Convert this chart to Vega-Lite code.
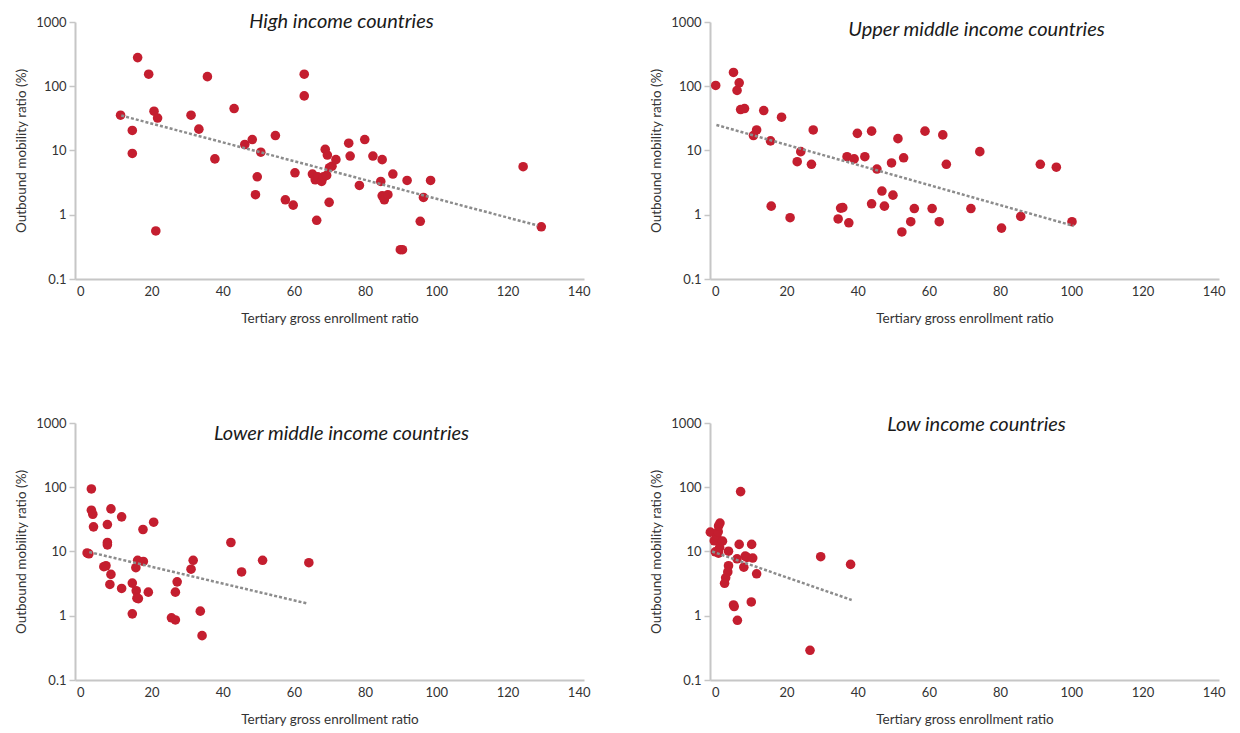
{
  "$schema": "https://vega.github.io/schema/vega-lite/v6.json",
  "background": "white",
  "padding": {"left": 14, "top": 12, "right": 5, "bottom": 5},
  "columns": 2,
  "spacing": {"row": 90, "column": 59},
  "datasets": {
    "pts": [
      {"g":"High","x":11.3,"y":35.4},{"g":"High","x":16.1,"y":279},{"g":"High","x":19.2,"y":154},{"g":"High","x":14.6,"y":20.5},{"g":"High","x":14.6,"y":9.0},{"g":"High","x":20.7,"y":40.9},{"g":"High","x":21.7,"y":32},{"g":"High","x":21.2,"y":0.56},{"g":"High","x":31.1,"y":35.4},{"g":"High","x":33.3,"y":21.5},{"g":"High","x":35.7,"y":141},{"g":"High","x":37.8,"y":7.4},{"g":"High","x":43.2,"y":45},{"g":"High","x":46.2,"y":12.4},{"g":"High","x":48.3,"y":14.8},{"g":"High","x":50.7,"y":9.4},{"g":"High","x":49.7,"y":3.9},{"g":"High","x":49.2,"y":2.05},{"g":"High","x":54.8,"y":17.1},{"g":"High","x":57.6,"y":1.71},{"g":"High","x":59.8,"y":1.41},{"g":"High","x":60.3,"y":4.5},{"g":"High","x":62.9,"y":154},{"g":"High","x":62.9,"y":70.8},{"g":"High","x":65.2,"y":4.3},{"g":"High","x":66,"y":3.5},{"g":"High","x":66.7,"y":3.9},{"g":"High","x":66.4,"y":0.82},{"g":"High","x":67.8,"y":3.3},{"g":"High","x":68.3,"y":3.9},{"g":"High","x":68.8,"y":10.4},{"g":"High","x":69.4,"y":8.5},{"g":"High","x":69.2,"y":4.1},{"g":"High","x":69.9,"y":1.56},{"g":"High","x":70,"y":5.4},{"g":"High","x":70.7,"y":5.7},{"g":"High","x":71.8,"y":7.2},{"g":"High","x":75.4,"y":13},{"g":"High","x":75.8,"y":8.2},{"g":"High","x":78.4,"y":2.86},{"g":"High","x":79.9,"y":14.8},{"g":"High","x":82.2,"y":8.2},{"g":"High","x":84.8,"y":7.2},{"g":"High","x":84.4,"y":3.3},{"g":"High","x":84.8,"y":1.97},{"g":"High","x":85.4,"y":1.71},{"g":"High","x":86.4,"y":2.05},{"g":"High","x":87.8,"y":4.3},{"g":"High","x":89.9,"y":0.286},{"g":"High","x":90.5,"y":0.286},{"g":"High","x":91.8,"y":3.42},{"g":"High","x":95.5,"y":0.79},{"g":"High","x":96.4,"y":1.86},{"g":"High","x":98.4,"y":3.42},{"g":"High","x":124.4,"y":5.6},{"g":"High","x":129.5,"y":0.65},
      {"g":"Upper","x":0.1,"y":103},{"g":"Upper","x":5.1,"y":164},{"g":"Upper","x":6.7,"y":113},{"g":"Upper","x":6.1,"y":86},{"g":"Upper","x":7.1,"y":43.4},{"g":"Upper","x":8.2,"y":45},{"g":"Upper","x":13.6,"y":41.9},{"g":"Upper","x":18.6,"y":33},{"g":"Upper","x":11.6,"y":20.9},{"g":"Upper","x":10.7,"y":17.1},{"g":"Upper","x":15.5,"y":14.1},{"g":"Upper","x":27.5,"y":20.9},{"g":"Upper","x":24,"y":9.6},{"g":"Upper","x":23,"y":6.7},{"g":"Upper","x":27,"y":6.1},{"g":"Upper","x":15.7,"y":1.36},{"g":"Upper","x":21,"y":0.9},{"g":"Upper","x":34.5,"y":0.86},{"g":"Upper","x":35.2,"y":1.27},{"g":"Upper","x":35.8,"y":1.29},{"g":"Upper","x":37.5,"y":0.75},{"g":"Upper","x":37,"y":8.0},{"g":"Upper","x":39,"y":7.4},{"g":"Upper","x":39.9,"y":18.5},{"g":"Upper","x":42,"y":8.0},{"g":"Upper","x":43.9,"y":20},{"g":"Upper","x":43.9,"y":1.48},{"g":"Upper","x":45.4,"y":5.15},{"g":"Upper","x":46.8,"y":2.34},{"g":"Upper","x":47.5,"y":1.36},{"g":"Upper","x":49.5,"y":6.4},{"g":"Upper","x":49.9,"y":2.02},{"g":"Upper","x":51.3,"y":15.3},{"g":"Upper","x":52.9,"y":7.7},{"g":"Upper","x":52.4,"y":0.54},{"g":"Upper","x":54.9,"y":0.78},{"g":"Upper","x":55.9,"y":1.25},{"g":"Upper","x":58.9,"y":20},{"g":"Upper","x":60.9,"y":1.25},{"g":"Upper","x":62.9,"y":0.78},{"g":"Upper","x":63.9,"y":17.5},{"g":"Upper","x":64.9,"y":6.1},{"g":"Upper","x":71.8,"y":1.25},{"g":"Upper","x":74.3,"y":9.6},{"g":"Upper","x":80.4,"y":0.62},{"g":"Upper","x":85.8,"y":0.94},{"g":"Upper","x":91.3,"y":6.1},{"g":"Upper","x":95.8,"y":5.5},{"g":"Upper","x":100.2,"y":0.78},
      {"g":"Lower","x":1.9,"y":9.5},{"g":"Lower","x":2.4,"y":9.2},{"g":"Lower","x":3.1,"y":94},{"g":"Lower","x":3.1,"y":43.9},{"g":"Lower","x":3.5,"y":38},{"g":"Lower","x":3.7,"y":24.2},{"g":"Lower","x":7.6,"y":26.3},{"g":"Lower","x":8.6,"y":46},{"g":"Lower","x":11.6,"y":34.6},{"g":"Lower","x":7.6,"y":13.8},{"g":"Lower","x":7.6,"y":12.7},{"g":"Lower","x":6.6,"y":5.8},{"g":"Lower","x":7.2,"y":6.0},{"g":"Lower","x":8.6,"y":4.4},{"g":"Lower","x":8.3,"y":3.07},{"g":"Lower","x":11.6,"y":2.66},{"g":"Lower","x":14.6,"y":3.22},{"g":"Lower","x":14.6,"y":1.07},{"g":"Lower","x":15.6,"y":5.6},{"g":"Lower","x":16.1,"y":7.3},{"g":"Lower","x":17.7,"y":7.0},{"g":"Lower","x":15.7,"y":2.45},{"g":"Lower","x":15.9,"y":1.88},{"g":"Lower","x":16.3,"y":1.85},{"g":"Lower","x":17.6,"y":22},{"g":"Lower","x":20.6,"y":28.6},{"g":"Lower","x":19.1,"y":2.33},{"g":"Lower","x":25.6,"y":0.93},{"g":"Lower","x":26.7,"y":0.86},{"g":"Lower","x":26.7,"y":2.33},{"g":"Lower","x":27.2,"y":3.37},{"g":"Lower","x":31.1,"y":5.3},{"g":"Lower","x":31.7,"y":7.3},{"g":"Lower","x":33.7,"y":1.18},{"g":"Lower","x":34.2,"y":0.49},{"g":"Lower","x":42.3,"y":13.8},{"g":"Lower","x":45.3,"y":4.8},{"g":"Lower","x":51.2,"y":7.3},{"g":"Lower","x":64.2,"y":6.7},
      {"g":"Low","x":-1.4,"y":20},{"g":"Low","x":-0.3,"y":14.7},{"g":"Low","x":0.4,"y":17},{"g":"Low","x":0.8,"y":20.3},{"g":"Low","x":0.9,"y":25},{"g":"Low","x":1.3,"y":27.7},{"g":"Low","x":0,"y":9.9},{"g":"Low","x":1.2,"y":11.5},{"g":"Low","x":2,"y":14.5},{"g":"Low","x":3.7,"y":10.1},{"g":"Low","x":7.1,"y":85.6},{"g":"Low","x":6.7,"y":12.9},{"g":"Low","x":10.2,"y":12.9},{"g":"Low","x":3.7,"y":6.0},{"g":"Low","x":3.5,"y":4.8},{"g":"Low","x":2.9,"y":3.9},{"g":"Low","x":2.6,"y":3.2},{"g":"Low","x":6.1,"y":7.7},{"g":"Low","x":8.4,"y":8.5},{"g":"Low","x":8.9,"y":8.1},{"g":"Low","x":8.0,"y":5.7},{"g":"Low","x":10.5,"y":7.9},{"g":"Low","x":11.6,"y":4.5},{"g":"Low","x":5.1,"y":1.47},{"g":"Low","x":5.3,"y":1.39},{"g":"Low","x":6.2,"y":0.85},{"g":"Low","x":10.1,"y":1.64},{"g":"Low","x":26.6,"y":0.29},{"g":"Low","x":29.6,"y":8.3},{"g":"Low","x":38,"y":6.3},{"g":"Low","x":0.9,"y":9.4}
    ],
    "trend": [
      {"g":"High","x":11.5,"y":35},{"g":"High","x":128.5,"y":0.68},
      {"g":"Upper","x":0.3,"y":25},{"g":"Upper","x":100.7,"y":0.67},
      {"g":"Lower","x":2.5,"y":9.8},{"g":"Lower","x":64,"y":1.54},
      {"g":"Low","x":-0.9,"y":10},{"g":"Low","x":38.3,"y":1.76}
    ]
  },
  "concat": [
    {
      "width": 509, "height": 257,
      "title": {"text": "High income countries", "offset": -16},
      "layer": [
        {"data": {"name": "pts"}, "transform": [{"filter": "datum.g === 'High'"}],
         "mark": {"type": "point", "filled": true, "size": 92, "color": "#c41e2f", "opacity": 1},
         "encoding": {
           "x": {"field": "x", "type": "quantitative", "scale": {"domain": [-1.5, 141.5], "nice": false, "zero": false}, "axis": {"values": [0,20,40,60,80,100,120,140], "title": "Tertiary gross enrollment ratio"}},
           "y": {"field": "y", "type": "quantitative", "scale": {"type": "log", "domain": [0.1, 1000], "nice": false}, "axis": {"values": [0.1,1,10,100,1000], "format": "~g", "title": "Outbound mobility ratio (%)"}}
         }},
        {"data": {"name": "trend"}, "transform": [{"filter": "datum.g === 'High'"}],
         "mark": {"type": "line", "color": "#8c8c8c", "strokeDash": [3, 2], "strokeWidth": 2.5},
         "encoding": {"x": {"field": "x", "type": "quantitative"}, "y": {"field": "y", "type": "quantitative"}}}
      ]
    },
    {
      "width": 509, "height": 257,
      "title": {"text": "Upper middle income countries", "offset": -24},
      "layer": [
        {"data": {"name": "pts"}, "transform": [{"filter": "datum.g === 'Upper'"}],
         "mark": {"type": "point", "filled": true, "size": 92, "color": "#c41e2f", "opacity": 1},
         "encoding": {
           "x": {"field": "x", "type": "quantitative", "scale": {"domain": [-1.5, 141.5], "nice": false, "zero": false}, "axis": {"values": [0,20,40,60,80,100,120,140], "title": "Tertiary gross enrollment ratio"}},
           "y": {"field": "y", "type": "quantitative", "scale": {"type": "log", "domain": [0.1, 1000], "nice": false}, "axis": {"values": [0.1,1,10,100,1000], "format": "~g", "title": "Outbound mobility ratio (%)"}}
         }},
        {"data": {"name": "trend"}, "transform": [{"filter": "datum.g === 'Upper'"}],
         "mark": {"type": "line", "color": "#8c8c8c", "strokeDash": [3, 2], "strokeWidth": 2.5},
         "encoding": {"x": {"field": "x", "type": "quantitative"}, "y": {"field": "y", "type": "quantitative"}}}
      ]
    },
    {
      "width": 509, "height": 257,
      "title": {"text": "Lower middle income countries", "offset": -27},
      "layer": [
        {"data": {"name": "pts"}, "transform": [{"filter": "datum.g === 'Lower'"}],
         "mark": {"type": "point", "filled": true, "size": 92, "color": "#c41e2f", "opacity": 1},
         "encoding": {
           "x": {"field": "x", "type": "quantitative", "scale": {"domain": [-1.5, 141.5], "nice": false, "zero": false}, "axis": {"values": [0,20,40,60,80,100,120,140], "title": "Tertiary gross enrollment ratio"}},
           "y": {"field": "y", "type": "quantitative", "scale": {"type": "log", "domain": [0.1, 1000], "nice": false}, "axis": {"values": [0.1,1,10,100,1000], "format": "~g", "title": "Outbound mobility ratio (%)"}}
         }},
        {"data": {"name": "trend"}, "transform": [{"filter": "datum.g === 'Lower'"}],
         "mark": {"type": "line", "color": "#8c8c8c", "strokeDash": [3, 2], "strokeWidth": 2.5},
         "encoding": {"x": {"field": "x", "type": "quantitative"}, "y": {"field": "y", "type": "quantitative"}}}
      ]
    },
    {
      "width": 509, "height": 257,
      "title": {"text": "Low income countries", "offset": -18},
      "layer": [
        {"data": {"name": "pts"}, "transform": [{"filter": "datum.g === 'Low'"}],
         "mark": {"type": "point", "filled": true, "size": 92, "color": "#c41e2f", "opacity": 1},
         "encoding": {
           "x": {"field": "x", "type": "quantitative", "scale": {"domain": [-1.5, 141.5], "nice": false, "zero": false}, "axis": {"values": [0,20,40,60,80,100,120,140], "title": "Tertiary gross enrollment ratio"}},
           "y": {"field": "y", "type": "quantitative", "scale": {"type": "log", "domain": [0.1, 1000], "nice": false}, "axis": {"values": [0.1,1,10,100,1000], "format": "~g", "title": "Outbound mobility ratio (%)"}}
         }},
        {"data": {"name": "trend"}, "transform": [{"filter": "datum.g === 'Low'"}],
         "mark": {"type": "line", "color": "#8c8c8c", "strokeDash": [3, 2], "strokeWidth": 2.5},
         "encoding": {"x": {"field": "x", "type": "quantitative"}, "y": {"field": "y", "type": "quantitative"}}}
      ]
    }
  ],
  "config": {
    "view": {"stroke": null},
    "font": "Lato",
    "axis": {"domainColor": "#c6c6c6", "domainWidth": 2, "grid": false, "labelColor": "#333333", "labelFontSize": 13, "titleColor": "#333333", "titleFontSize": 13.5, "titleFontWeight": "normal", "tickColor": "#c6c6c6", "tickWidth": 1.5},
    "axisX": {"ticks": false, "labelPadding": 6, "titlePadding": 13},
    "axisY": {"tickSize": 6, "labelPadding": 3, "titlePadding": 7},
    "title": {"fontStyle": "italic", "fontSize": 20, "fontWeight": "normal", "color": "#1a1a1a", "anchor": "middle", "frame": "group", "dx": 12}
  }
}
